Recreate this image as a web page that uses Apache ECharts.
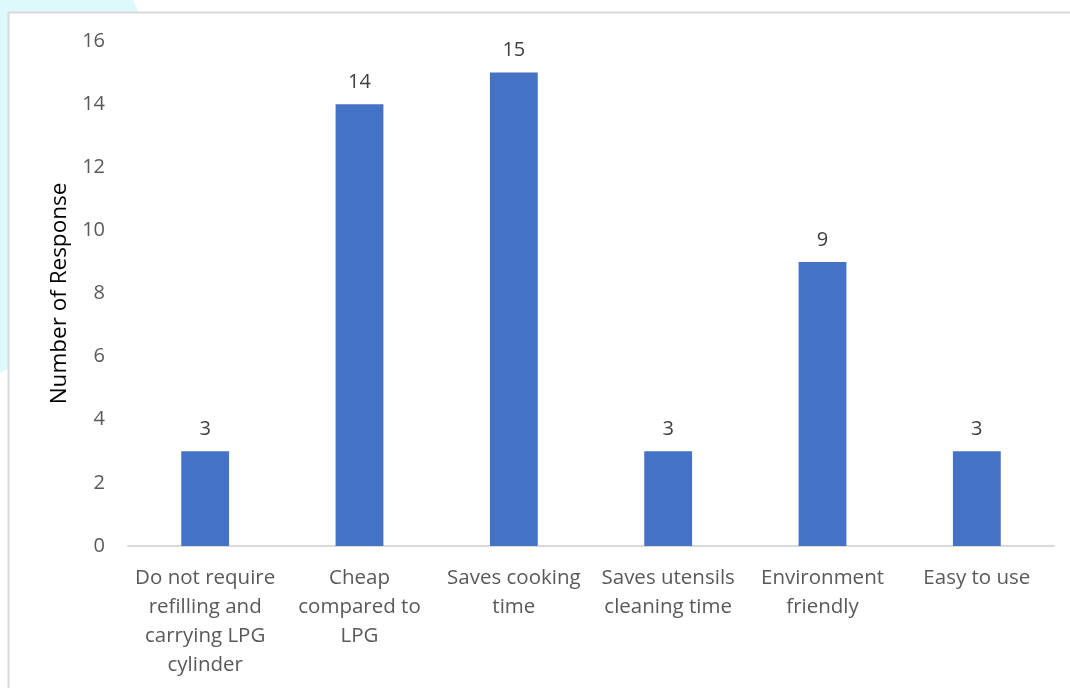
<!DOCTYPE html>
<html><head><meta charset="utf-8">
<script src="https://cdn.jsdelivr.net/npm/echarts@6/dist/echarts.min.js"></script>
<style>html,body{margin:0;padding:0;background:#fff}#c{width:1070px;height:688px}</style>
</head><body><div id="c"></div>
<script>
const categories = ["Do not require\nrefilling and\ncarrying LPG\ncylinder","Cheap\ncompared to\nLPG","Saves cooking\ntime","Saves utensils\ncleaning time","Environment\nfriendly","Easy to use"];
const values = [3,14,15,3,9,3];
const yTicks = {min:0,max:16,interval:2};
const yTitle = "Number of Response";
const font = "'Open Sans', 'Liberation Sans', sans-serif";
const chart = echarts.init(document.getElementById('c'));
chart.setOption({
  animation:false,
  graphic:[
    {type:'circle',shape:{cx:-120,cy:120,r:280},style:{fill:'rgba(200,245,250,0.6)'},z:-10},
    {type:'rect',shape:{x:8.5,y:12.5,width:1100,height:700},style:{fill:'#fff',stroke:'#d9d9d9',lineWidth:2},z:-5}
  ],
  grid:{left:128,right:16,top:41,bottom:142},
  xAxis:{type:'category',data:categories,
    axisLine:{lineStyle:{color:'#d9d9d9',width:2}},axisTick:{show:false},
    axisLabel:{color:'#595959',fontSize:20.5,fontFamily:font,lineHeight:29,margin:18,interval:0}},
  yAxis:{type:'value',min:yTicks.min,max:yTicks.max,interval:yTicks.interval,
    name:yTitle,nameLocation:'middle',nameGap:56,nameTextStyle:{color:'#000',fontSize:22.5,fontFamily:font},
    axisLine:{show:false},axisTick:{show:false},splitLine:{show:false},
    axisLabel:{color:'#595959',fontSize:20,fontFamily:font,margin:23}},
  series:[{type:'bar',data:values,barWidth:'31%',itemStyle:{color:'#4472c4'},
    label:{show:true,position:'top',distance:12,color:'#404040',fontSize:20,fontFamily:font}}]
});
</script></body></html>
